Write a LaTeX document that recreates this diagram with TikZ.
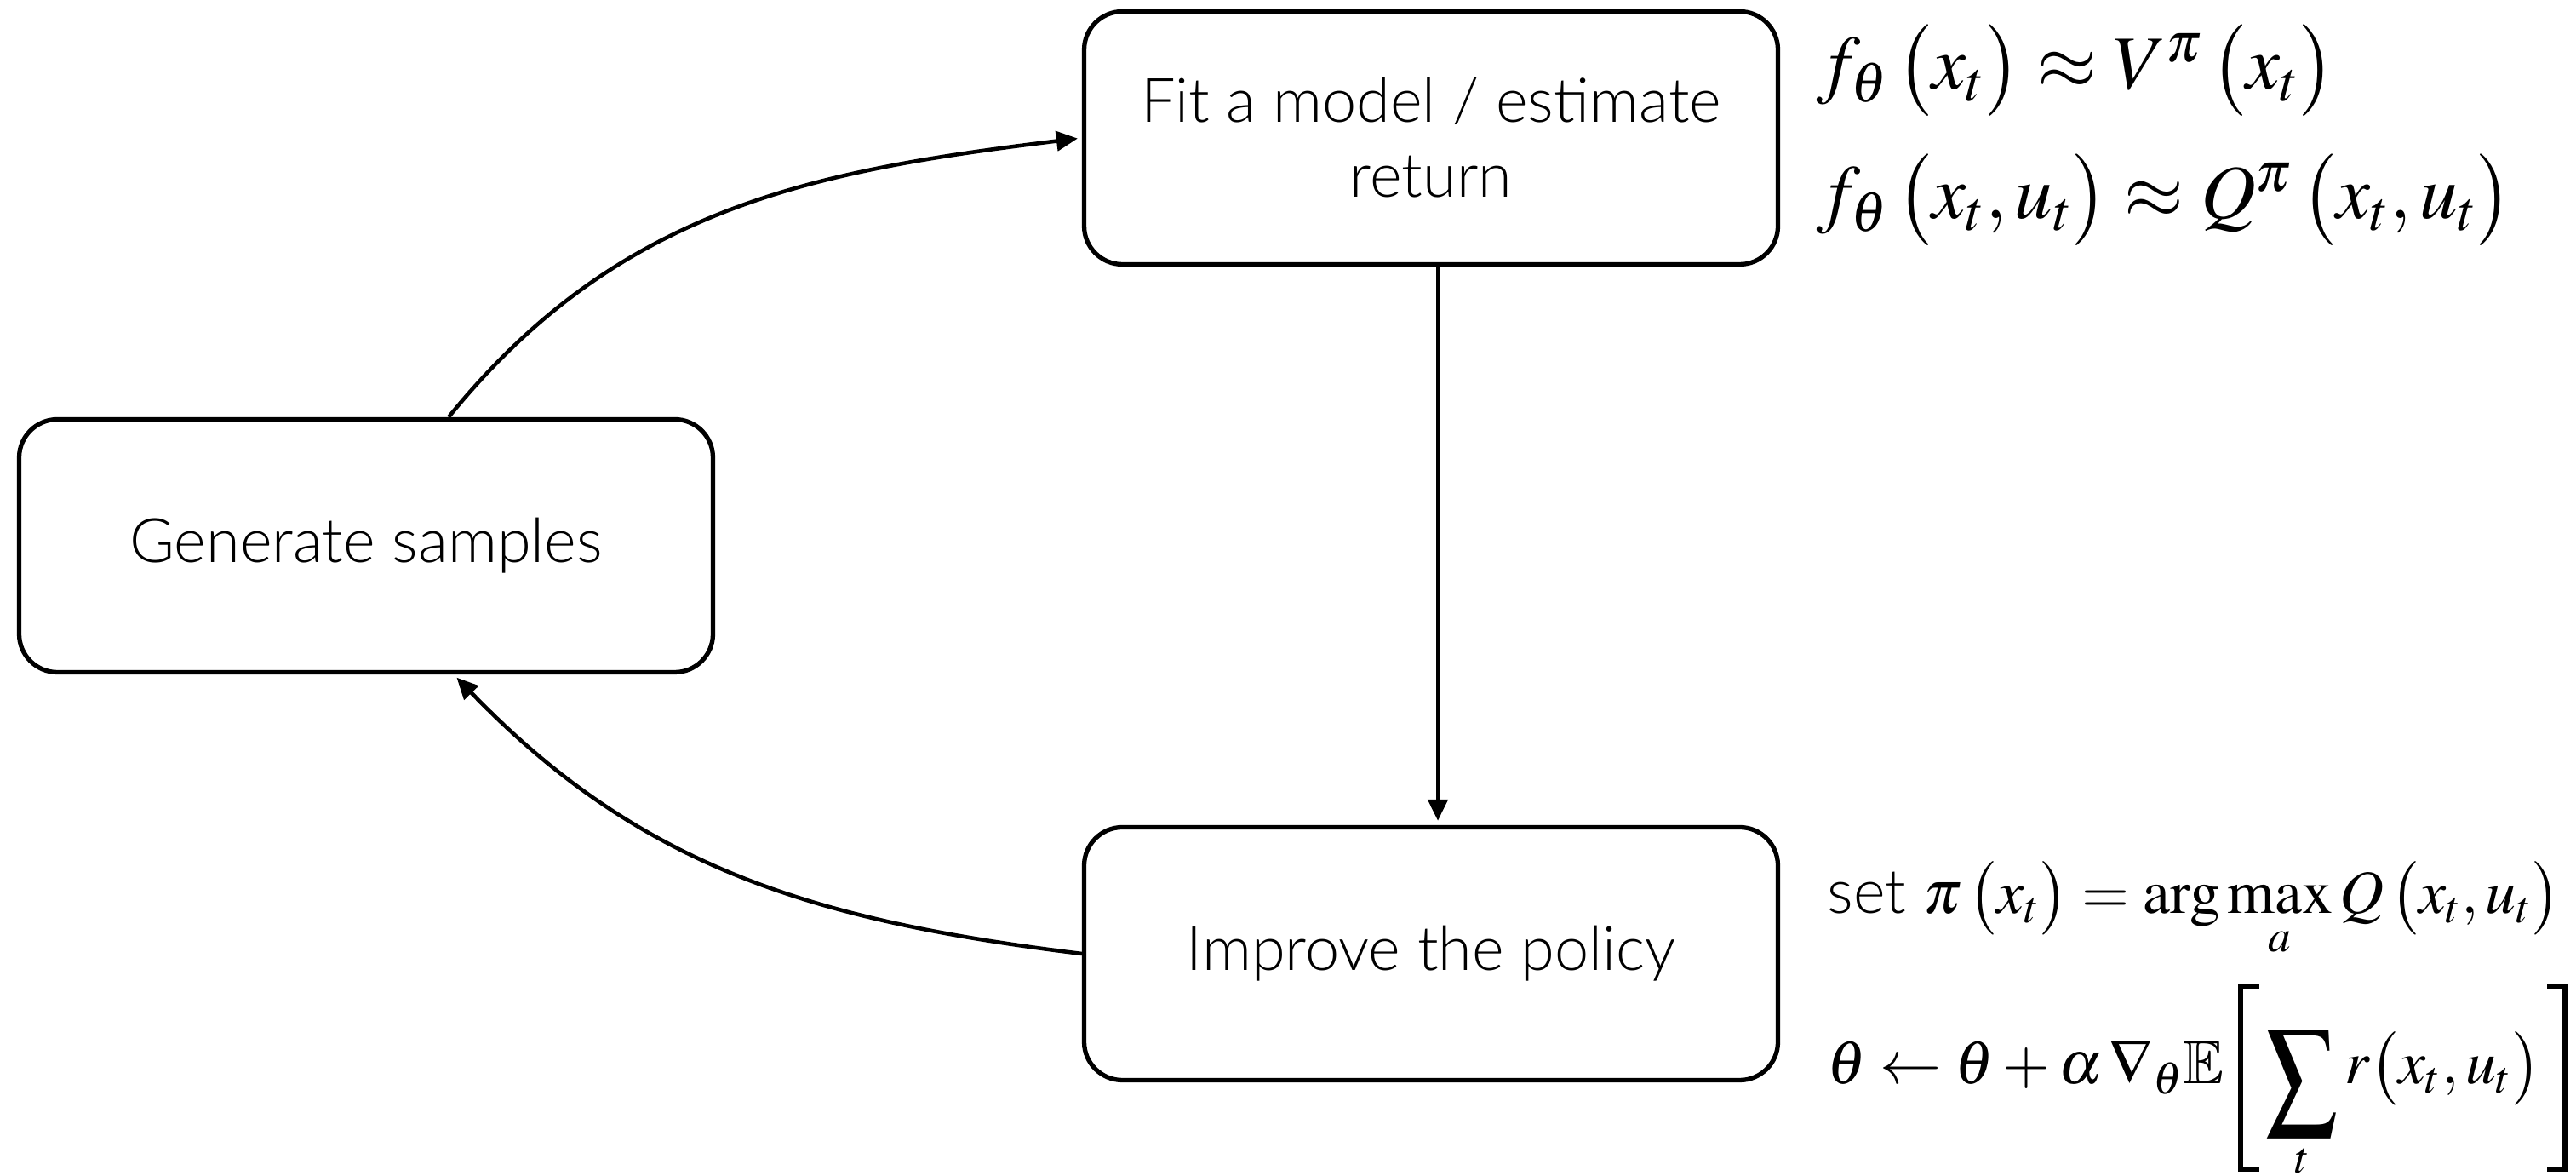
\documentclass[tikz,border=0pt]{standalone}
\usepackage{amsmath,amssymb}
\usepackage{mathptmx}
\usepackage[no-math]{fontspec}
\setmainfont{Lato}[UprightFont=* Light]
\usetikzlibrary{arrows.meta,positioning}
\tikzset{
  stage/.style={
    draw,
    line width=1.5pt,
    rounded corners=0.45cm,
    minimum width=8.15cm,
    minimum height=2.97cm,
    align=center,
    font=\fontsize{20.5}{25}\selectfont
  },
  loopedge/.style={
    line width=1.3pt,
    -{Triangle[length=0.25cm,width=0.23cm]},
    shorten >=0.05cm
  },
  formula/.style={
    anchor=base west,
    inner sep=0pt,
    font=\fontsize{25.5}{38}\selectfont
  },
  smallformula/.style={
    formula,
    font=\fontsize{20.5}{32}\selectfont
  }
}
% tall sum and square brackets, sitting a little below the math axis
\newcommand{\tallsum}{\mathop{\raisebox{-7pt}{\scalebox{1.15}[1.4]{$\displaystyle\sum$}}}\limits}
\newcommand{\tallopen}{\mathopen{\raisebox{-29.4pt}{\vbox{\hrule width 7pt height 1.8pt
    \hbox{\vrule width 1.8pt height 59.4pt\hskip 5.2pt}\hrule width 7pt height 1.8pt}}}}
\newcommand{\tallclose}{\mathclose{\raisebox{-29.4pt}{\vbox{\hrule width 7pt height 1.8pt
    \hbox{\hskip 5.2pt\vrule width 1.8pt height 59.4pt}\hrule width 7pt height 1.8pt}}}}

\begin{document}
\begin{tikzpicture}
    \useasboundingbox (0,0) rectangle (30.26,13.81);
    % the three stages of the loop
    \node[stage] (gen) at (4.30,7.40) {Generate samples};
    \node[stage] (fit) at (16.81,12.19) {Fit a model / estimate\\return};
    \node[stage] (imp) at (16.81,2.61) {Improve the policy};
    \draw[loopedge] ([xshift=0.97cm]gen.north) to[out=51,in=187] (fit.west);
    \draw[loopedge] ([xshift=0.08cm]fit.south) -- ([xshift=0.08cm]imp.north);
    \draw[loopedge] (imp.west) to[out=173,in=-46] ([xshift=1.03cm]gen.south);
    % equations next to the boxes
    \node[formula] (vfit) at (21.33,12.76) {$f_\theta\,\bigl(x_t\bigr) \approx V^\pi\,\bigl(x_t\bigr)$};
    \node[formula] (qfit) at (21.33,11.24) {$f_\theta\,\bigl(x_t, u_t\bigr) \approx Q^\pi\,\bigl(x_t, u_t\bigr)$};
    \node[smallformula] (greedy) at (21.46,3.08) {$\displaystyle \mbox{set}\ \pi\,\bigl(x_t\bigr) = \arg\max_a Q\,\bigl(x_t, u_t\bigr)$};
    \node[smallformula] (grad) at (21.46,1.08) {$\displaystyle \theta \leftarrow \theta + \alpha\,\nabla_\theta\mathbb{E}\;\tallopen\,\tallsum_t r\bigl(x_t, u_t\bigr)\,\tallclose$};
\end{tikzpicture}
\end{document}
